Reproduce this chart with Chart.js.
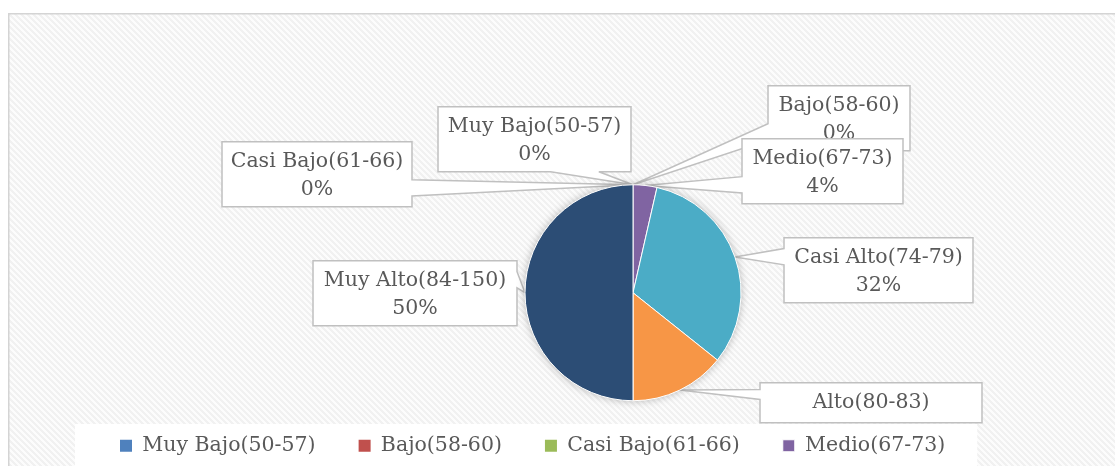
<!DOCTYPE html>
<html><head><meta charset="utf-8">
<script src="https://cdn.jsdelivr.net/npm/chart.js@4"></script>
<style>html,body{margin:0;padding:0;background:#fff;overflow:hidden}#wrap{position:relative;width:1115px;height:466px}</style>
</head><body><div id="wrap"><canvas id="c"></canvas></div>
<script>
// ---- data ----
const categories = ['Muy Bajo(50-57)','Bajo(58-60)','Casi Bajo(61-66)','Medio(67-73)','Casi Alto(74-79)','Alto(80-83)','Muy Alto(84-150)'];
const counts = [0, 0, 0, 1, 9, 4, 14];
const sliceColors = ['#4f81bd','#c0504d','#9bbb59','#8064a2','#4bacc6','#f79646','#2c4d75'];
const legendVisibleCount = 4;

// ---- layout of the callout boxes (relative to pie centre) ----
const calloutBoxes = [
  {dx:-195, dy:-186, w:193, h:65},
  {dx: 135, dy:-207, w:142, h:65},
  {dx:-411, dy:-151, w:190, h:65},
  {dx: 109, dy:-154, w:161, h:65},
  {dx: 151, dy: -55, w:189, h:65},
  {dx: 127, dy:  90, w:222, h:40},
  {dx:-320, dy: -32, w:204, h:65}
];

const FONT_FAMILY = '"DejaVu Serif", serif';
const FONT_SIZE = 20.5;
const TEXT_COLOR = '#595959';

let hatch = null;
function makeHatch(ctx){
  const n = 6;
  const c = document.createElement('canvas'); c.width = n; c.height = n;
  const g = c.getContext('2d');
  const img = g.createImageData(n, n);
  for (let y = 0; y < n; y++) for (let x = 0; x < n; x++) {
    const k = (((x - y) % n) + n) % n;
    const v = k < 3 ? 241 : 252;
    const i = (y * n + x) * 4;
    img.data[i] = img.data[i+1] = img.data[i+2] = v; img.data[i+3] = 255;
  }
  g.putImageData(img, 0, 0);
  return ctx.createPattern(c, 'repeat');
}

function drawCallout(ctx, l, t, w, h, ax, ay, lines){
  const r = l + w, b = t + h, cx = l + w/2, cy = t + h/2, dx = ax - cx, dy = ay - cy;
  const inside = ax >= l && ax <= r && ay >= t && ay <= b;
  let edge = null, p1, p2;
  if (!inside) {
    if (Math.abs(dy) * w > Math.abs(dx) * h) {
      edge = dy > 0 ? 'bottom' : 'top';
      p1 = dx > 0 ? l + w*7/12 : l + w*2/12; p2 = dx > 0 ? l + w*10/12 : l + w*5/12;
    } else {
      edge = dx > 0 ? 'right' : 'left';
      p1 = dy > 0 ? t + h*7/12 : t + h*2/12; p2 = dy > 0 ? t + h*10/12 : t + h*5/12;
    }
  }
  ctx.beginPath();
  ctx.moveTo(l, t);
  if (edge === 'top') { ctx.lineTo(p1, t); ctx.lineTo(ax, ay); ctx.lineTo(p2, t); }
  ctx.lineTo(r, t);
  if (edge === 'right') { ctx.lineTo(r, p1); ctx.lineTo(ax, ay); ctx.lineTo(r, p2); }
  ctx.lineTo(r, b);
  if (edge === 'bottom') { ctx.lineTo(p2, b); ctx.lineTo(ax, ay); ctx.lineTo(p1, b); }
  ctx.lineTo(l, b);
  if (edge === 'left') { ctx.lineTo(l, p2); ctx.lineTo(ax, ay); ctx.lineTo(l, p1); }
  ctx.closePath();
  ctx.fillStyle = '#ffffff'; ctx.fill();
  ctx.strokeStyle = '#c0c0c0'; ctx.lineWidth = 1.5; ctx.lineJoin = 'miter'; ctx.miterLimit = 4; ctx.stroke();
  ctx.fillStyle = TEXT_COLOR;
  ctx.font = FONT_SIZE + 'px ' + FONT_FAMILY;
  ctx.textAlign = 'center'; ctx.textBaseline = 'middle';
  const lineY = [20, 48];
  lines.forEach((s, k) => {
    if (lineY[k] + 10 <= h) ctx.fillText(s, cx, t + lineY[k]);  // text that does not fit is hidden
  });
}

const backgroundAndLabels = {
  id: 'backgroundAndLabels',
  beforeDraw(chart){
    const ctx = chart.ctx, W = chart.width, H = chart.height;
    ctx.save();
    ctx.fillStyle = '#ffffff'; ctx.fillRect(0, 0, W, H);
    if (!hatch) hatch = makeHatch(ctx);
    ctx.fillStyle = hatch; ctx.fillRect(8, 13, W, H);
    ctx.strokeStyle = '#d4d4d4'; ctx.lineWidth = 1.5;
    ctx.strokeRect(8.75, 13.75, W + 20, H + 20);
    const meta = chart.getDatasetMeta(0);
    const total = counts.reduce((a, v) => a + v, 0);
    meta.data.forEach((arc, i) => {
      const p = arc.getProps(['x','y','startAngle','endAngle','outerRadius'], true);
      const mid = (p.startAngle + p.endAngle) / 2;
      const ax = p.x + Math.cos(mid) * p.outerRadius;
      const ay = p.y + Math.sin(mid) * p.outerRadius;
      const bx = calloutBoxes[i];
      drawCallout(ctx, p.x + bx.dx, p.y + bx.dy, bx.w, bx.h, ax, ay,
        [categories[i], Math.round(counts[i] / total * 100) + '%']);
    });
    const lg = chart.legend;
    if (lg && lg.legendHitBoxes && lg.legendHitBoxes.length) {
      const hb = lg.legendHitBoxes, last = hb[hb.length - 1];
      const left = hb[0].left - 45, right = last.left + last.width + 32;
      ctx.fillStyle = '#ffffff';
      ctx.fillRect(left, lg.top + 31.5, right - left, H);
    }
    ctx.restore();
  },
  beforeDatasetsDraw(chart){
    const arc = chart.getDatasetMeta(0).data[0];
    if (!arc) return;
    const ctx = chart.ctx;
    ctx.save();
    ctx.shadowColor = 'rgba(0,0,0,0.35)'; ctx.shadowBlur = 10;
    ctx.beginPath(); ctx.arc(arc.x, arc.y, arc.outerRadius - 1, 0, Math.PI * 2);
    ctx.fillStyle = '#9a9a9a'; ctx.fill();
    ctx.restore();
  }
};

new Chart(document.getElementById('c'), {
  type: 'pie',
  data: {
    labels: categories,
    datasets: [{
      data: counts,
      backgroundColor: sliceColors,
      borderColor: '#ffffff',
      borderWidth: c => (c.raw > 0 ? 1 : 0),
      radius: 108
    }]
  },
  options: {
    responsive: true,
    maintainAspectRatio: false,
    animation: false,
    events: [],
    rotation: 0,
    layout: { padding: { top: 193, left: 77, right: 0, bottom: 0 } },
    plugins: {
      tooltip: { enabled: false },
      // empty spacer on the left so the pie sits right of the legend's centre
      title: {
        display: true, position: 'left', text: ' ',
        font: { size: 10, lineHeight: 1 }, padding: 32
      },
      legend: {
        position: 'bottom',
        align: 'start',
        labels: {
          boxWidth: 12, boxHeight: 12, padding: 43,
          color: TEXT_COLOR,
          font: { family: FONT_FAMILY, size: FONT_SIZE },
          filter: item => item.index < legendVisibleCount
        }
      }
    }
  },
  plugins: [backgroundAndLabels]
});
</script>
</body></html>
